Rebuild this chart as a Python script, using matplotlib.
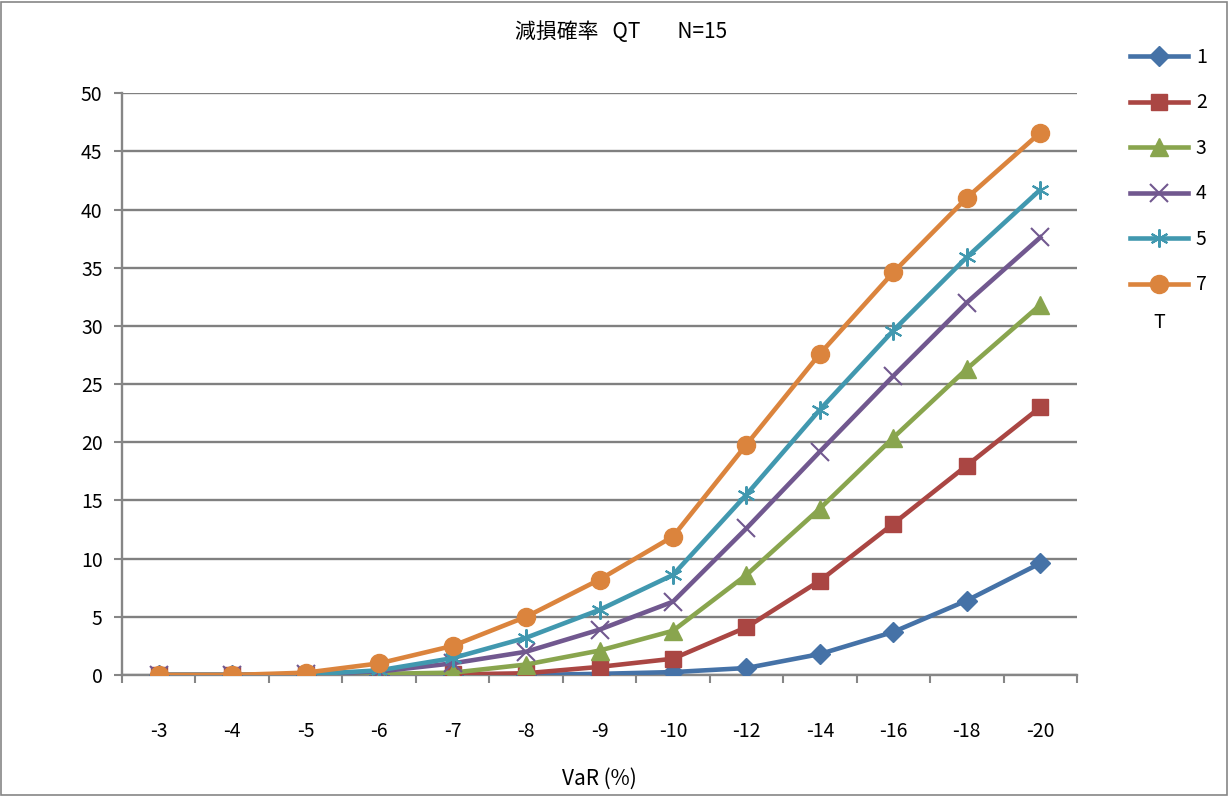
import matplotlib.pyplot as plt
from matplotlib.patches import Rectangle

plt.rcParams['font.family'] = ['Noto Sans CJK JP', 'DejaVu Sans']

categories = ['-3', '-4', '-5', '-6', '-7', '-8', '-9', '-10', '-12', '-14', '-16', '-18', '-20']

s1 = [0, 0, 0, 0, 0, 0, 0.1, 0.25, 0.6, 1.8, 3.7, 6.4, 9.6]
s2 = [0, 0, 0, 0, 0.05, 0.15, 0.7, 1.4, 4.1, 8.1, 13.0, 18.0, 23.0]
s3 = [0, 0, 0, 0.1, 0.2, 0.9, 2.1, 3.8, 8.6, 14.3, 20.4, 26.3, 31.8]
s4 = [0, 0, 0.05, 0.3, 1.0, 2.0, 3.9, 6.3, 12.6, 19.2, 25.7, 32.0, 37.6]
s5 = [0, 0, 0.05, 0.4, 1.45, 3.2, 5.6, 8.6, 15.5, 22.8, 29.6, 35.9, 41.7]
s7 = [0, 0, 0.2, 1.0, 2.5, 5.0, 8.2, 11.9, 19.8, 27.6, 34.6, 41.0, 46.6]

series = [
    ('1', s1, '#4572A7', 'D', 10, 1),
    ('2', s2, '#AA4643', 's', 12, 1),
    ('3', s3, '#89A54E', '^', 13, 1),
    ('4', s4, '#71588F', 'x', 13, 1.5),
    ('5', s5, '#4198AF', (6, 2, 0), 13, 1.5),
    ('7', s7, '#DB843D', 'o', 13, 1),
]

fig = plt.figure(figsize=(12.29, 7.96), dpi=100)
ax = fig.add_axes([0.0993, 0.152, 0.777, 0.731])

x = list(range(len(categories)))
for name, vals, col, mk, ms, mew in series:
    ax.plot(x, vals, color=col, lw=3.3, marker=mk, markersize=ms,
            markeredgewidth=mew, markeredgecolor=col, markerfacecolor=col,
            label=name, zorder=3)

ax.set_xlim(-0.5, len(categories) - 0.5)
ax.set_ylim(0, 50)
ax.set_yticks(range(0, 51, 5))
ax.set_xticks(x)
ax.set_xticklabels(categories)
ax.set_xticks([i - 0.5 for i in range(len(categories) + 1)], minor=True)
ax.tick_params(axis='x', which='major', length=0, pad=33, labelsize=14)
ax.tick_params(axis='x', which='minor', length=6, color='#868686', width=1.5)
ax.tick_params(axis='y', length=6, color='#868686', width=1.5, labelsize=14, pad=8)
ax.grid(axis='y', color='#808080', lw=1.7)
ax.set_axisbelow(True)
for s in ['top', 'right']:
    ax.spines[s].set_visible(False)
for s in ['left', 'bottom']:
    ax.spines[s].set_color('#868686')
    ax.spines[s].set_linewidth(1.7)

ax.set_xlabel('VaR (%)', fontsize=15, labelpad=19)

fig.text(0.505, 0.96, '減損確率   QT        N=15', ha='center', va='center', fontsize=15)

fig.legend(loc='upper left', bbox_to_anchor=(0.905, 0.963), frameon=False,
           fontsize=14, handlelength=3.0, labelspacing=1.26, handletextpad=0.4)
fig.text(0.943, 0.595, 'T', ha='center', va='center', fontsize=14)

fig.patches.append(Rectangle((0.001, 0.001), 0.997, 0.997, transform=fig.transFigure,
                             fill=False, edgecolor='#868686', lw=1.2))

plt.savefig('out.png', dpi=100)
